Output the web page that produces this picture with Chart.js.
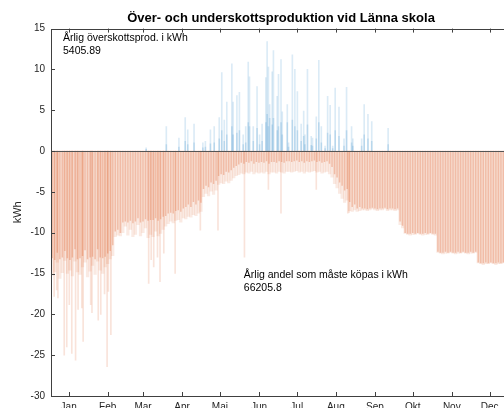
<!DOCTYPE html>
<html>
<head>
<meta charset="utf-8">
<script src="https://cdn.jsdelivr.net/npm/chart.js@4/dist/chart.umd.min.js"></script>
<style>
html, body { margin: 0; padding: 0; background: #fff; overflow: hidden; }
#wrap { width: 504px; height: 408px; overflow: hidden; }
</style>
</head>
<body>
<div id="wrap"><canvas id="chart_energy" width="562" height="430"></canvas></div>
<script>
//----------------------------------------------------------------------------------------------------------------------------
// data: hourly surplus / deficit at Länna skola, summarised per 2-day bin (deficit) and per day (peaks)
//----------------------------------------------------------------------------------------------------------------------------
var monthNames = ["Jan", "Feb", "Mar", "Apr", "Maj", "Jun", "Jul", "Aug", "Sep", "Okt", "Nov", "Dec"];
var monthTicks = [14, 45, 73, 104, 134, 165, 195, 226, 257, 287, 318, 348];   // day of year, 15th of each month
var yTicks = [-30, -25, -20, -15, -10, -5, 0, 5, 10, 15];

// deepest hourly deficit in each 2-day bin (kWh)
var deficitPeak = [
    -15.2, -14.8, -13.6, -15.6, -14.9, -13.4, -15.0, -14.6, -15.3, -13.5, -14.8, -15.1, -14.2, -13.6, -15.4, -14.7, -14.0, -15.1, -13.5, -14.6, -15.0, -14.2, -13.8,
    -13.2, -12.8, -10.5, -10.3, -10.4, -10.0, -9.2,
    -10.3, -9.6, -10.5, -10.2, -9.0, -10.4, -10.0, -9.4,
    -10.6, -10.2, -10.5, -9.8, -10.4, -10.1, -9.6,
    -9.2, -8.9, -8.6, -8.8, -8.5, -8.4, -8.7, -8.2, -8.3, -8.0, -8.1, -7.8, -7.9, -7.6, -7.4,
    -5.6, -5.2, -5.5, -4.9, -5.3, -4.8,
    -4.1, -3.9, -4.0, -3.7, -3.9, -3.6, -3.3, -3.0,
    -2.9, -2.7, -2.8, -2.6, -2.7, -2.5, -2.8, -2.6, -2.7,
    -2.6, -2.7, -2.5, -2.8, -2.6, -2.6, -2.7, -2.5, -2.6, -2.7, -2.5,
    -2.5, -2.6, -2.5, -2.4, -2.6, -2.5, -2.7, -2.5, -2.6, -2.5, -2.4, -2.6, -2.5, -2.7, -2.6, -2.5, -2.8, -3.2,
    -4.0, -4.5, -5.2, -5.8, -6.3, -6.0,
    -7.3, -7.4, -7.2, -7.4, -7.3, -7.2,
    -7.2, -7.3, -7.2, -7.1, -7.2, -7.3, -7.2, -7.2, -7.1, -7.3, -7.2, -7.2, -7.3, -7.2,
    -9.0, -9.4,
    -10.1, -10.2, -10.3, -10.2, -10.2, -10.1, -10.2, -10.3, -10.2, -10.2, -10.1, -10.2, -10.3,
    -12.4, -12.5, -12.6, -12.5, -12.5, -12.4, -12.5, -12.6, -12.5, -12.5, -12.4, -12.5, -12.6, -12.5, -12.5, -12.4,
    -13.7, -13.8, -13.9, -13.8, -13.8, -13.7, -13.8, -13.9, -13.8, -13.8, -13.7, -13.8, -13.9, -13.8
];

// typical (working hours) deficit in each 2-day bin (kWh)
var deficitBase = [
    -13.1, -13.3, -12.4, -13.2, -13.0, -12.2, -13.1, -13.3, -13.0, -12.0, -13.2, -13.1, -12.8, -12.1, -13.2, -13.0, -12.9, -13.2, -12.0, -13.0, -13.1, -12.9, -12.5,
    -12.2, -11.5, -9.8, -9.6, -10.0, -8.7, -8.6,
    -8.7, -8.5, -8.8, -8.6, -8.2, -8.7, -8.6, -8.3,
    -8.5, -8.4, -8.4, -8.2, -8.5, -8.3, -8.0,
    -7.9, -7.6, -7.5, -7.6, -7.3, -7.2, -7.4, -7.0, -6.8, -6.5, -6.8, -6.2, -6.5, -6.0, -6.3,
    -4.6, -4.2, -4.4, -3.8, -4.0, -3.6,
    -3.0, -2.8, -2.9, -2.5, -2.6, -2.3, -2.0, -1.8,
    -1.6, -1.4, -1.5, -1.3, -1.4, -1.2, -1.5, -1.3, -1.4,
    -1.3, -1.4, -1.2, -1.5, -1.3, -1.3, -1.4, -1.2, -1.3, -1.4, -1.2,
    -1.2, -1.3, -1.2, -1.1, -1.3, -1.2, -1.4, -1.2, -1.3, -1.2, -1.1, -1.3, -1.2, -1.4, -1.3, -1.2, -1.5, -1.9,
    -2.8, -3.2, -3.8, -4.2, -4.8, -4.6,
    -6.2, -6.8, -6.5, -7.0, -6.8, -7.0,
    -7.0, -7.1, -7.0, -6.9, -7.0, -7.1, -7.0, -7.0, -6.9, -7.1, -7.0, -7.0, -7.1, -7.0,
    -8.6, -9.1,
    -10.0, -10.1, -10.1, -10.0, -10.1, -10.0, -10.1, -10.1, -10.0, -10.1, -10.0, -10.1, -10.1,
    -12.3, -12.4, -12.4, -12.3, -12.4, -12.3, -12.4, -12.4, -12.3, -12.4, -12.3, -12.4, -12.4, -12.3, -12.4, -12.3,
    -13.6, -13.7, -13.7, -13.6, -13.7, -13.6, -13.7, -13.7, -13.6, -13.7, -13.6, -13.7, -13.7, -13.6
];

// single hours with very high deficit
var spikeDays   = [2, 4, 5, 10, 12, 14, 16, 19, 21, 24, 25, 31, 32, 37, 39, 42, 44, 45, 47, 77, 79, 81, 84, 86, 89, 98, 118, 132, 153, 172, 182, 210, 235, 236];
var spikeValues = [-17.8, -17.0, -18.0, -25.0, -24.0, -18.8, -24.8, -25.6, -19.4, -19.2, -23.3, -18.8, -19.8, -20.7, -20.0, -17.5, -26.4, -17.2, -22.5,
                   -16.2, -13.3, -14.2, -13.0, -16.0, -12.5, -15.0, -9.7, -9.7, -13.0, -4.7, -7.6, -4.7, -7.6, -7.5];

// days with surplus production: peak hour and typical hour (kWh)
var surplusDays = [75, 91, 101, 106, 108, 113, 120, 122, 126, 129, 133, 135, 137, 139, 143, 144, 147, 149, 152, 154, 156, 157, 160, 163, 165, 167,
                   170, 171, 172, 173, 175, 176, 179, 180, 182, 183, 187, 188, 191, 193, 195, 198, 200, 201, 203, 206, 207, 210, 212, 214, 217,
                   219, 221, 223, 225, 228, 232, 234, 238, 239, 246, 248, 251, 254, 267];
var surplusPeak = [0.4, 3.0, 1.6, 4.1, 2.6, 3.3, 1.0, 1.2, 2.6, 3.0, 4.1, 9.6, 3.8, 6.0, 10.7, 6.0, 6.8, 7.2, 2.0, 3.0, 10.9, 9.1, 3.0, 7.9, 2.0, 3.3,
                   9.0, 13.4, 10.3, 5.7, 9.7, 12.3, 6.7, 9.4, 11.2, 4.8, 5.7, 1.0, 11.8, 10.0, 7.3, 3.3, 4.9, 2.0, 10.0, 1.8, 1.6, 4.2, 11.1, 3.0, 0.6,
                   6.7, 5.6, 0.6, 7.7, 5.4, 1.5, 7.8, 3.0, 1.5, 1.5, 5.7, 4.5, 3.6, 2.8];
var surplusBase = [0.2, 0.8, 0.5, 1.2, 0.8, 1.0, 0.4, 0.5, 0.9, 1.0, 1.5, 2.5, 1.2, 2.0, 3.0, 2.0, 2.2, 2.5, 0.8, 1.0, 3.5, 3.0, 1.2, 2.8, 0.8, 1.2,
                   3.5, 4.5, 3.0, 4.0, 3.2, 4.0, 2.5, 3.0, 3.5, 2.0, 3.5, 0.5, 3.8, 3.0, 2.5, 1.2, 1.8, 0.8, 3.2, 0.7, 0.6, 1.5, 3.5, 1.0, 0.3,
                   2.2, 2.0, 0.3, 2.5, 1.8, 0.6, 2.5, 1.0, 0.6, 0.6, 2.0, 1.5, 1.2, 0.8];

var surplusTotal = "5405.89";
var deficitTotal = "66205.8";

var fontFamily = '"Liberation Sans", Arial, Helvetica, sans-serif';

function binPoints(arr) {
    return arr.map(function (v, i) { return { x: 2 * i + 1, y: v }; });
}
function dayPoints(days, vals) {
    return days.map(function (d, i) { return { x: d + 0.5, y: vals[i] }; });
}

//----------------------------------------------------------------------------------------------------------------------------
// matlab style box: inward ticks, zero baseline and the two text notes
//----------------------------------------------------------------------------------------------------------------------------
var matlabBox = {
    id: 'matlabBox',
    afterDatasetsDraw: function (chart) {
        var ctx = chart.ctx, a = chart.chartArea, xs = chart.scales.x, ys = chart.scales.y;
        ctx.save();
        var y0 = Math.round(ys.getPixelForValue(0)) + 0.5;
        ctx.lineWidth = 1;
        ctx.strokeStyle = '#555555';
        ctx.beginPath(); ctx.moveTo(a.left, y0); ctx.lineTo(a.right, y0); ctx.stroke();

        ctx.strokeStyle = '#404040';
        ctx.strokeRect(Math.round(a.left) + 0.5, Math.round(a.top) + 0.5, Math.round(a.right - a.left), Math.round(a.bottom - a.top));
        ctx.beginPath();
        monthTicks.forEach(function (d) {
            var x = Math.round(xs.getPixelForValue(d)) + 0.5;
            ctx.moveTo(x, a.bottom); ctx.lineTo(x, a.bottom - 4);
            ctx.moveTo(x, a.top); ctx.lineTo(x, a.top + 4);
        });
        yTicks.forEach(function (v) {
            var y = Math.round(ys.getPixelForValue(v)) + 0.5;
            ctx.moveTo(a.left, y); ctx.lineTo(a.left + 4, y);
            ctx.moveTo(a.right, y); ctx.lineTo(a.right - 4, y);
        });
        ctx.stroke();

        ctx.fillStyle = '#000000';
        ctx.font = '10.5px ' + fontFamily;
        ctx.textBaseline = 'alphabetic';
        ctx.fillText('Årlig överskottsprod. i kWh', xs.getPixelForValue(9.5), ys.getPixelForValue(13.5));
        ctx.fillText(surplusTotal, xs.getPixelForValue(9.5), ys.getPixelForValue(11.9));
        ctx.fillText('Årlig andel som måste köpas i kWh', xs.getPixelForValue(153), ys.getPixelForValue(-15.5));
        ctx.fillText(deficitTotal, xs.getPixelForValue(153), ys.getPixelForValue(-17.2));
        ctx.restore();
    }
};

function DrawSurplusChart() {
    try {
        Chart.defaults.font.family = fontFamily;
        new Chart(document.getElementById("chart_energy"), {
            type: 'bar',
            data: {
                datasets: [
                    { data: binPoints(deficitBase), backgroundColor: 'rgba(217,83,25,0.3)', barThickness: 0.8 },
                    { data: dayPoints(surplusDays, surplusBase), backgroundColor: 'rgba(0,114,189,0.16)', barThickness: 1 },
                    { data: binPoints(deficitPeak), backgroundColor: 'rgba(217,83,25,0.12)', barThickness: 2.6 },
                    { data: dayPoints(spikeDays, spikeValues), backgroundColor: 'rgba(217,83,25,0.16)', barThickness: 1 },
                    { data: dayPoints(surplusDays, surplusPeak), backgroundColor: 'rgba(0,114,189,0.14)', barThickness: 1 }
                ]
            },
            options: {
                responsive: false,
                animation: false,
                devicePixelRatio: 1,
                datasets: { bar: { grouped: false, borderWidth: 0 } },
                layout: { padding: { left: 0, right: 0, top: 0, bottom: 0 } },
                plugins: {
                    legend: { display: false },
                    tooltip: { enabled: false },
                    title: {
                        display: true,
                        text: "Över- och underskottsproduktion vid Länna skola",
                        color: '#000000',
                        font: { size: 13, weight: 'bold' },
                        padding: { top: 11, bottom: 2 }
                    }
                },
                scales: {
                    x: {
                        type: 'linear', min: 0, max: 365, offset: false,
                        grid: { display: false, drawTicks: false },
                        border: { display: false },
                        afterBuildTicks: function (s) { s.ticks = monthTicks.map(function (v) { return { value: v }; }); },
                        ticks: {
                            autoSkip: false, maxRotation: 0, padding: 5, color: '#262626', font: { size: 10 },
                            callback: function (v, i) { return monthNames[i]; }
                        },
                        afterFit: function (s) { s.height = 34; }
                    },
                    y: {
                        min: -30, max: 15,
                        grid: { display: false, drawTicks: false },
                        border: { display: false },
                        afterBuildTicks: function (s) { s.ticks = yTicks.map(function (v) { return { value: v }; }); },
                        ticks: { padding: 6, color: '#262626', font: { size: 10 } },
                        title: { display: true, text: 'kWh', color: '#262626', font: { size: 11 }, padding: { top: 11, bottom: 0 } },
                        afterFit: function (s) { s.width = 51; }
                    },
                    yRight: {
                        position: 'right', min: -30, max: 15,
                        grid: { display: false, drawTicks: false },
                        border: { display: false },
                        ticks: { display: false },
                        afterFit: function (s) { s.width = 51; }
                    }
                }
            },
            plugins: [matlabBox]
        });
    }
    catch (e) {
        console.log(e.message);
    }
}

DrawSurplusChart();
</script>
</body>
</html>
